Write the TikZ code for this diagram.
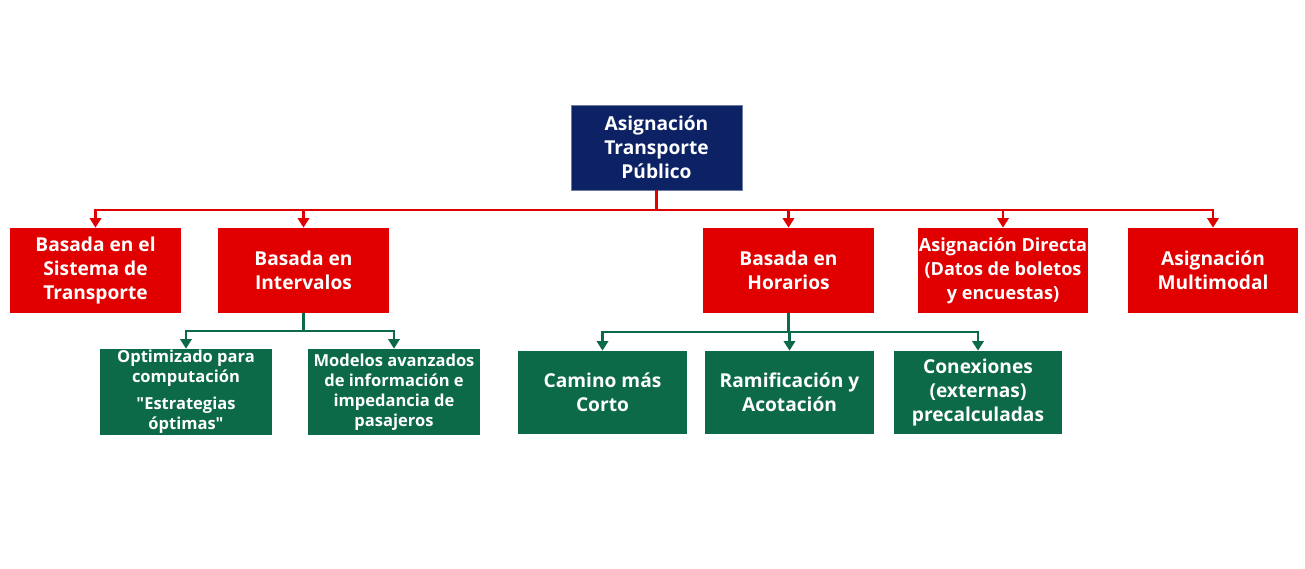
\documentclass[tikz,border=0pt]{standalone}
\usepackage{fontspec}
\setmainfont{Open Sans}[Ligatures=TeXOff]
\usepackage{tikz}
\usetikzlibrary{arrows.meta}

\definecolor{azul}{RGB}{12,34,100}
\definecolor{rojo}{RGB}{224,0,0}
\definecolor{verde}{RGB}{12,106,72}

\begin{document}
\begin{tikzpicture}[x=0.02cm,y=-0.02cm,>={Triangle[length=5.4pt,width=6.4pt]}]
\tikzstyle{every node} = [text = white, font = \bfseries\fontsize{10.9}{13.6}\selectfont, align = center, inner sep = 0pt]
\tikzstyle{raiz} = [fill = azul, draw = azul!60, minimum width = 3.42cm, minimum height = 1.7cm]
\tikzstyle{metodo} = [fill = rojo, minimum width = 3.42cm, minimum height = 1.7cm]
\tikzstyle{sub} = [fill = verde, minimum width = 3.44cm, minimum height = 1.72cm, font = \bfseries\fontsize{9.4}{11.4}\selectfont]
\tikzstyle{subb} = [fill = verde, minimum width = 3.38cm, minimum height = 1.66cm]
\tikzstyle{lrojo} = [draw = rojo, line width = 1.6pt]
\tikzstyle{lverde} = [draw = verde, line width = 1.6pt]
	\useasboundingbox [fill = white] (0,0) rectangle (1305,568);
	\node [raiz] (raiz) at (656.5,147.5) {Asignación\\Transporte\\Público};
	% nivel 1
	\node [metodo] (sistema) at (95.5,270.5) {Basada en el\\Sistema de\\Transporte};
	\node [metodo] (intervalos) at (303.5,270.5) {Basada en\\Intervalos};
	\node [metodo] (horarios) at (788.5,270.5) {Basada en\\Horarios};
	\node [metodo, font = \bfseries\fontsize{10.3}{13.6}\selectfont] (directa) at (1003,270.5) {Asignación Directa\\(Datos de boletos\\y encuestas)};
	\node [metodo] (multimodal) at (1213,270.5) {Asignación\\Multimodal};
	% nivel 2
	\node [sub] (optimizado) at (186,392) {Optimizado para\\computación\\[4pt]"Estrategias\\óptimas"};
	\node [sub] (modelos) at (394,392) {Modelos avanzados\\de información e\\impedancia de\\pasajeros};
	\node [subb] (camino) at (602.5,392.5) {Camino más\\Corto};
	\node [subb] (ramificacion) at (789.5,392.5) {Ramificación y\\Acotación};
	\node [subb] (conexiones) at (978,392.5) {Conexiones\\(externas)\\precalculadas};
	% conectores
	\coordinate (brojo) at (656.5,210);
	\coordinate (bint) at (303.5,331);
	\coordinate (bhor) at (788.5,332);
	\draw [lrojo] (raiz.south) -- (brojo);
	\foreach \n in {sistema, intervalos, horarios, directa, multimodal}
		\draw [lrojo, ->] (brojo) -| (\n.north);
	\draw [lverde] (intervalos.south) -- (bint);
	\foreach \n in {optimizado, modelos}
		\draw [lverde, ->] (bint) -| (\n.north);
	\draw [lverde] (horarios.south) -- (bhor);
	\foreach \n in {camino, ramificacion, conexiones}
		\draw [lverde, ->] (bhor) -| (\n.north);
\end{tikzpicture}
\end{document}
